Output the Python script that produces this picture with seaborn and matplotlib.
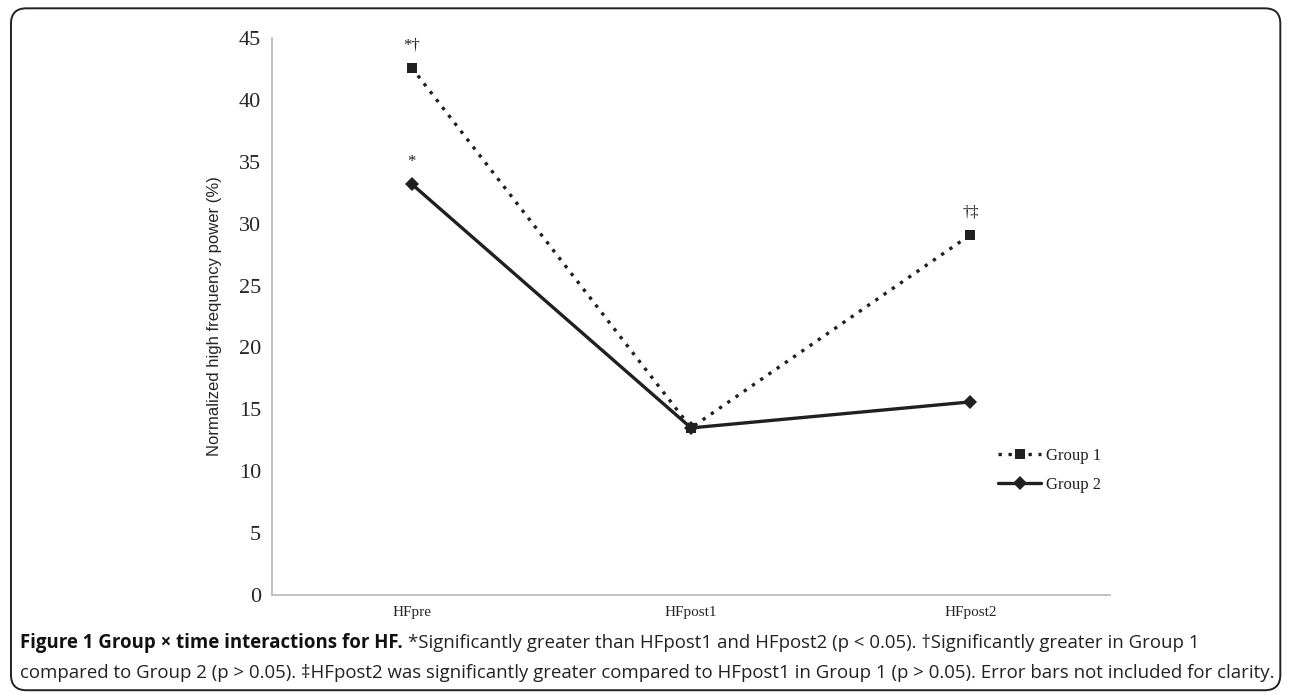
import matplotlib
matplotlib.use("Agg")
import matplotlib.pyplot as plt
from matplotlib.patches import FancyBboxPatch
from matplotlib.lines import Line2D
import pandas as pd
import seaborn as sns

# ─── Data ─────────────────────────────────────────────────────────────────────
timepoints = ["HFpre", "HFpost1", "HFpost2"]
group1 = [42.6, 13.5, 29.1]
group2 = [33.2, 13.5, 15.6]
group_names = ["Group 1", "Group 2"]
marks_g1 = ["*\u2020", "", "\u2020\u2021"]
marks_g2 = ["*", "", ""]

df = pd.DataFrame({
    "time": timepoints * 2,
    "value": group1 + group2,
    "group": [group_names[0]] * 3 + [group_names[1]] * 3,
})

sns.set_style("white")
serif = "Liberation Serif"
INK = "#231f20"
AXC = "#bdbdbd"

fig = plt.figure(figsize=(12.9, 6.93), dpi=100)
ax = fig.add_axes([0.2109, 0.1414, 0.6496, 0.8038])

sns.lineplot(data=df, x="time", y="value", hue="group", style="group",
             palette=[INK, INK], markers=["s", "D"], dashes=[(1, 2), ""],
             linewidth=2.4, markersize=7, markeredgewidth=0, ax=ax,
             legend=False, sort=False)

ax.set_xlim(-0.5, 2.5)
ax.set_ylim(0, 45)
ax.set_yticks(range(0, 46, 5))
ax.set_xticks([0, 1, 2])
ax.set_xticklabels(timepoints, fontfamily=serif, fontsize=11)
for t in ax.get_yticklabels():
    t.set_fontfamily(serif)
    t.set_fontsize(16)
ax.set_xlabel("")
ax.set_ylabel("Normalized high frequency power (%)", fontfamily="Liberation Sans",
              fontsize=12, labelpad=12)

# category-boundary ticks on x, small ticks on y
ax.set_xticks([-0.5, 0.5, 1.5, 2.5], minor=True)
ax.tick_params(axis="x", which="major", length=0, pad=8)
ax.tick_params(axis="x", which="minor", length=5, color=AXC, direction="out")
ax.tick_params(axis="y", length=5, color=AXC, direction="out", pad=3)
for s in ["top", "right"]:
    ax.spines[s].set_visible(False)
for s in ["left", "bottom"]:
    ax.spines[s].set_color(AXC)
    ax.spines[s].set_linewidth(1.3)

# significance markers
for i, (m1, m2) in enumerate(zip(marks_g1, marks_g2)):
    if m1:
        ax.annotate(m1, (i, group1[i]), xytext=(0, 10), textcoords="offset points",
                    ha="center", va="bottom", fontfamily=serif, fontsize=12, color=INK)
    if m2:
        ax.annotate(m2, (i, group2[i]), xytext=(0, 10), textcoords="offset points",
                    ha="center", va="bottom", fontfamily=serif, fontsize=12, color=INK)

handles = [
    Line2D([], [], color=INK, linestyle=(0, (1, 2)), linewidth=2.4, marker="s",
           markersize=7, markeredgewidth=0),
    Line2D([], [], color=INK, linestyle="-", linewidth=2.4, marker="D",
           markersize=7, markeredgewidth=0),
]
leg = fig.legend(handles, group_names, loc="center left",
                 bbox_to_anchor=(0.762, 0.321), frameon=False,
                 prop={"family": serif, "size": 12}, handlelength=2.6,
                 handletextpad=0.3, labelspacing=0.8)
for t in leg.get_texts():
    t.set_color(INK)

# rounded frame around figure
frame = FancyBboxPatch((0.0085, 0.004), 0.984, 0.984,
                       boxstyle="round,pad=0,rounding_size=0.012",
                       transform=fig.transFigure, fill=False,
                       edgecolor="#222222", linewidth=1.4, mutation_aspect=1.86)
fig.patches.append(frame)

# caption
cap_font = "Open Sans"
cap_size = 13.4
fig.canvas.draw()
r = fig.canvas.get_renderer()
t1 = fig.text(0.0155, 0.072, "Figure 1 Group \u00d7 time interactions for HF.",
              fontfamily=cap_font, fontweight="bold", fontsize=cap_size,
              va="center", ha="left", color="#111111")
bb = t1.get_window_extent(renderer=r).transformed(fig.transFigure.inverted())
fig.text(bb.x1 + 0.004, 0.072,
         "*Significantly greater than HFpost1 and HFpost2 (p < 0.05). "
         "\u2020Significantly greater in Group 1",
         fontfamily=cap_font, fontsize=cap_size, va="center", ha="left",
         color="#222222")
fig.text(0.0155, 0.029,
         "compared to Group 2 (p > 0.05). \u2021HFpost2 was significantly greater "
         "compared to HFpost1 in Group 1 (p > 0.05). Error bars not included for clarity.",
         fontfamily=cap_font, fontsize=cap_size, va="center", ha="left",
         color="#222222")

fig.savefig("out.png", dpi=100)
